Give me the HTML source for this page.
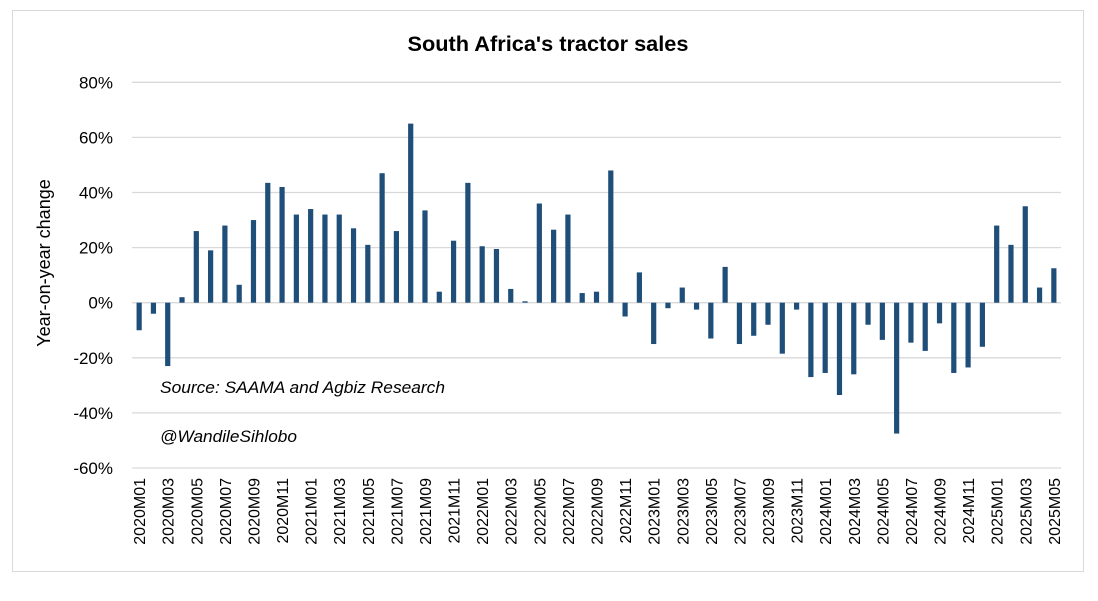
<!DOCTYPE html>
<html><head><meta charset="utf-8"><style>
body{margin:0;background:#fff;font-family:"Liberation Sans",Arial,sans-serif;}
svg text{font-family:"Liberation Sans",Arial,sans-serif;}
</style></head><body>
<svg id="chart" width="1098" height="596" xmlns="http://www.w3.org/2000/svg">
<rect x="12.5" y="10.5" width="1071" height="561" fill="#fff" stroke="#d9d9d9"/>
<text x="548" y="51" text-anchor="middle" font-size="21" font-weight="bold" fill="#000" textLength="281" lengthAdjust="spacingAndGlyphs">South Africa's tractor sales</text>
<text transform="translate(50,263) rotate(-90)" text-anchor="middle" font-size="18" fill="#000">Year-on-year change</text>
<g id="grid"></g><g id="bars"></g><g id="ylab"></g><g id="xlab"></g>
<text x="160" y="393" font-size="17" font-style="italic" fill="#000" textLength="285" lengthAdjust="spacingAndGlyphs">Source: SAAMA and Agbiz Research</text>
<text x="160" y="442" font-size="17" font-style="italic" fill="#000" textLength="137" lengthAdjust="spacingAndGlyphs">@WandileSihlobo</text>
</svg>
<script>
const years=[2020,2021,2022,2023,2024,2025];
const values=[-10,-4,-23,2,26,19,28,6.5,30,43.5,42,32,
34,32,32,27,21,47,26,65,33.5,4,22.5,43.5,
20.5,19.5,5,0.5,36,26.5,32,3.5,4,48,-5,11,
-15,-2,5.5,-2.5,-13,13,-15,-12,-8,-18.5,-2.5,-27,
-25.5,-33.5,-26,-8,-13.5,-47.5,-14.5,-17.5,-7.5,-25.5,-23.5,-16,
28,21,35,5.5,12.5];
const yTicks=[80,60,40,20,0,-20,-40,-60];
const categories=[];
for(const y of years)for(let m=1;m<=12;m++){if(categories.length<values.length)categories.push(y+'M'+String(m).padStart(2,'0'));}
const NS='http://www.w3.org/2000/svg';
const x0=132,x1=1061,y0=302.7,pxPer=2.755;
const step=(x1-x0)/values.length;
const X=i=>x0+step*(i+0.5);
const Y=v=>y0-v*pxPer;
function mk(t,a,p){const e=document.createElementNS(NS,t);for(const k in a)e.setAttribute(k,a[k]);document.getElementById(p).appendChild(e);return e;}
yTicks.forEach(t=>{
 const l=mk('line',{x1:x0,x2:x1,y1:Y(t),y2:Y(t),stroke:'#d9d9d9','stroke-width':1.3},'grid');
 
 
 const tx=mk('text',{x:113,y:Y(t)+6,'text-anchor':'end','font-size':17,fill:'#000'},'ylab');
 tx.textContent=t+'%';
 
 
});
values.forEach((v,i)=>{
 const r=mk('rect',{x:X(i)-2.6,width:5.2,y:Math.min(Y(v),y0),height:Math.abs(Y(v)-y0),fill:'#1f4e79'},'bars');
 
 
 if(i%2===0){
  const t=mk('text',{transform:`translate(${X(i)+6},478) rotate(-90)`,'text-anchor':'end','font-size':16,fill:'#000'},'xlab');
  t.textContent=categories[i];
  
  
 }
});
</script>
</body></html>
